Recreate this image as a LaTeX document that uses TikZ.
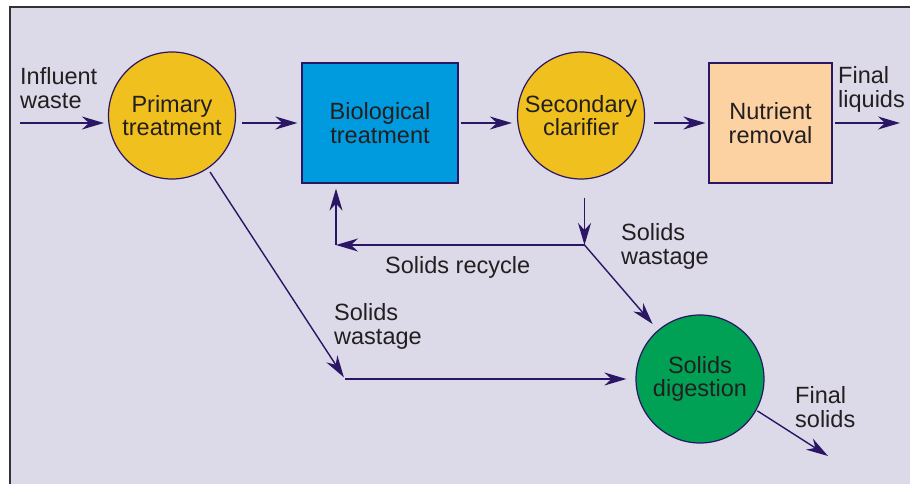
\documentclass[tikz,border=0pt]{standalone}
\usepackage{fontspec}
\setmainfont{Liberation Sans}
\usetikzlibrary{arrows.meta,calc}
\definecolor{bgc}{HTML}{DCD9E8}
\definecolor{framec}{HTML}{333333}
\definecolor{linec}{HTML}{2A1664}
\definecolor{yellowc}{HTML}{F0C01E}
\definecolor{bluec}{HTML}{009ADE}
\definecolor{peachc}{HTML}{FCD2A2}
\definecolor{greenc}{HTML}{00A055}
\definecolor{textc}{HTML}{231F20}
\begin{document}
\begin{tikzpicture}[x=1pt,y=-1pt,
  lbl/.style={font=\fontsize{23.5}{24}\selectfont, text=textc, align=left, inner sep=0pt, anchor=west},
  unit/.style={draw=linec, line width=1.2pt, font=\fontsize{23.5}{23.5}\selectfont, text=textc, align=center, inner sep=0pt},
  roundunit/.style={unit, circle, minimum size=127pt},
  boxunit/.style={unit, rectangle},
  arr/.style={draw=linec, line width=1.4pt, -{Stealth[length=22pt,width=13pt,inset=7pt]}},
  plain/.style={draw=linec, line width=1.4pt}]
% background and frame
\useasboundingbox (0,0) rectangle (910,484);
\fill[white] (0,0) rectangle (910,484);
\fill[bgc] (10,7) rectangle (910,484);
\draw[framec, line width=1.8pt] (10,484) -- (10,7) -- (910,7);

% units
\node[roundunit, fill=yellowc] (primary) at (172,115.5) {Primary\\treatment};
\node[boxunit, fill=bluec, minimum width=156pt, minimum height=120pt] (bio) at (380,123) {Biological\\treatment};
\node[roundunit, fill=yellowc] (secondary) at (581,115.5) {Secondary\\clarifier};
\node[boxunit, fill=peachc, minimum width=123pt, minimum height=120pt] (nutrient) at (770.5,123) {Nutrient\\removal};
\node[roundunit, fill=greenc, minimum size=128pt] (digestion) at (700,379) {Solids\\digestion};

% free ends and corners
\coordinate (inA) at (20,123);
\coordinate (outL) at (900,123);
\coordinate (split) at (584.5,245);
\coordinate (rcorner) at (336,245);
\coordinate (wcorner) at (345,379);
\coordinate (outS) at (828,456);

% main line
\draw[arr] (inA) -- ([xshift=-4pt]primary.west |- inA);
\draw[arr] ([xshift=6pt]primary.east |- bio.west) -- ([xshift=-4pt]bio.west);
\draw[arr] ([xshift=2pt]bio.east) -- ([xshift=-5pt]secondary.west |- bio.east);
\draw[arr] ([xshift=9pt]secondary.east |- nutrient.west) -- ([xshift=-3pt]nutrient.west);
\draw[arr] ([xshift=2pt]nutrient.east) -- (outL);

% recycle and wastage
\draw[arr] ([yshift=-18pt]secondary.south -| split) -- (split);
\draw[arr] (split) -- (rcorner);
\draw[arr] (rcorner) -- ([yshift=-5pt]bio.south -| rcorner);
\draw[arr, shorten >=8pt] (split) -- (digestion);
\draw[arr, shorten <=4pt, shorten >=2pt] (primary.-56) -- (wcorner);
\draw[arr] (wcorner) -- ([xshift=-9pt]digestion.west);
\draw[arr, shorten <=1pt] (digestion.-29) -- (outS);

% labels
\node[lbl] (linf) at (20,88.5) {Influent\\waste};
\node[lbl] (lliq) at (838,89) {Final\\liquids};
\node[lbl] (lw1) at (621,246) {Solids\\wastage};
\node[lbl] (lrec) at (385,267) {Solids recycle};
\node[lbl] (lw2) at (334,326) {Solids\\wastage};
\node[lbl] (lsol) at (795,407.5) {Final\\solids};
\end{tikzpicture}
\end{document}
